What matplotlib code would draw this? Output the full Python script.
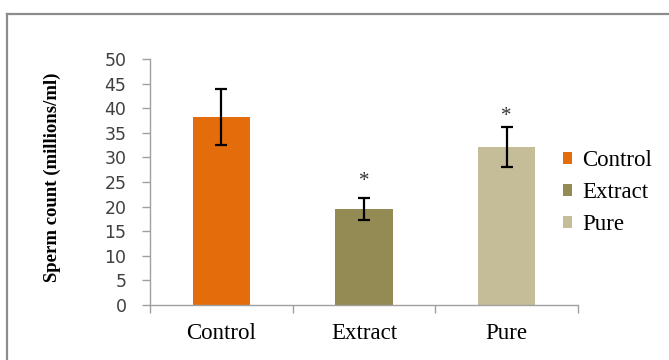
import matplotlib
matplotlib.use("Agg")
import matplotlib.pyplot as plt
from matplotlib.patches import Patch
from matplotlib.lines import Line2D

categories = ["Control", "Extract", "Pure"]
means = [38.2, 19.5, 32.1]
errors = [5.7, 2.2, 4.1]
asterisk_y = [None, 25.8, 39.2]
colors = ["#E46C0A", "#948A54", "#C4BD97"]
yticks = [0, 5, 10, 15, 20, 25, 30, 35, 40, 45, 50]
ylabel = "Sperm count (millions/ml)"

fig = plt.figure(figsize=(6.69, 3.6), dpi=100)
ax = fig.add_axes([150/669, 55/360, 428/669, 246/360])

x = list(range(len(categories)))
ax.bar(x, means, width=0.4, color=colors, zorder=2)
ax.errorbar(x, means, yerr=errors, fmt="none", ecolor="black",
            elinewidth=1.6, capsize=4, capthick=1.6, zorder=3)
for xi, ay in zip(x, asterisk_y):
    if ay is not None:
        ax.text(xi, ay - 0.8, "*", ha="center", va="center",
                fontsize=15, family="Liberation Serif", color="#333333")

ax.set_xlim(-0.5, 2.5)
ax.set_ylim(0, 50)
ax.set_yticks(yticks)
ax.set_yticklabels([str(v) for v in yticks], fontsize=12.5, family="DejaVu Sans", color="#404040")
ax.set_xticks([-0.5, 0.5, 1.5, 2.5])
ax.set_xticklabels([])
ax.set_xticks(x, minor=True)
ax.set_xticklabels(categories, minor=True, fontsize=16.5, family="Liberation Serif")
ax.tick_params(axis="x", which="minor", length=0, pad=13)
ax.tick_params(axis="x", which="major", length=6, color="#A0A0A0", width=1)
ax.tick_params(axis="y", length=6, color="#A0A0A0", width=1, pad=11)

for sp in ["top", "right"]:
    ax.spines[sp].set_visible(False)
for sp in ["left", "bottom"]:
    ax.spines[sp].set_color("#A0A0A0")
    ax.spines[sp].set_linewidth(1)

fig.text(52/669, (360-177)/360, ylabel, rotation=90, ha="center", va="center",
         fontsize=13.5, fontweight="bold", family="Liberation Serif")

handles = [Patch(facecolor=c, edgecolor="none") for c in colors]
fig.legend(handles, categories, loc="upper left", bbox_to_anchor=(563/669, (360-150)/360),
           frameon=False, prop={"family": "Liberation Serif", "size": 16.5},
           handlelength=0.4, handleheight=0.4, handletextpad=0.45, labelspacing=0.48,
           borderaxespad=0, borderpad=0)

# outer frame (left and top edges)
fig.add_artist(Line2D([7/669, 7/669], [0, (360-14)/360], color="#8C8C8C", lw=1.6,
                      transform=fig.transFigure))
fig.add_artist(Line2D([7/669, 1], [(360-14)/360, (360-14)/360], color="#8C8C8C", lw=1.6,
                      transform=fig.transFigure))

fig.savefig("out.png", dpi=100)
